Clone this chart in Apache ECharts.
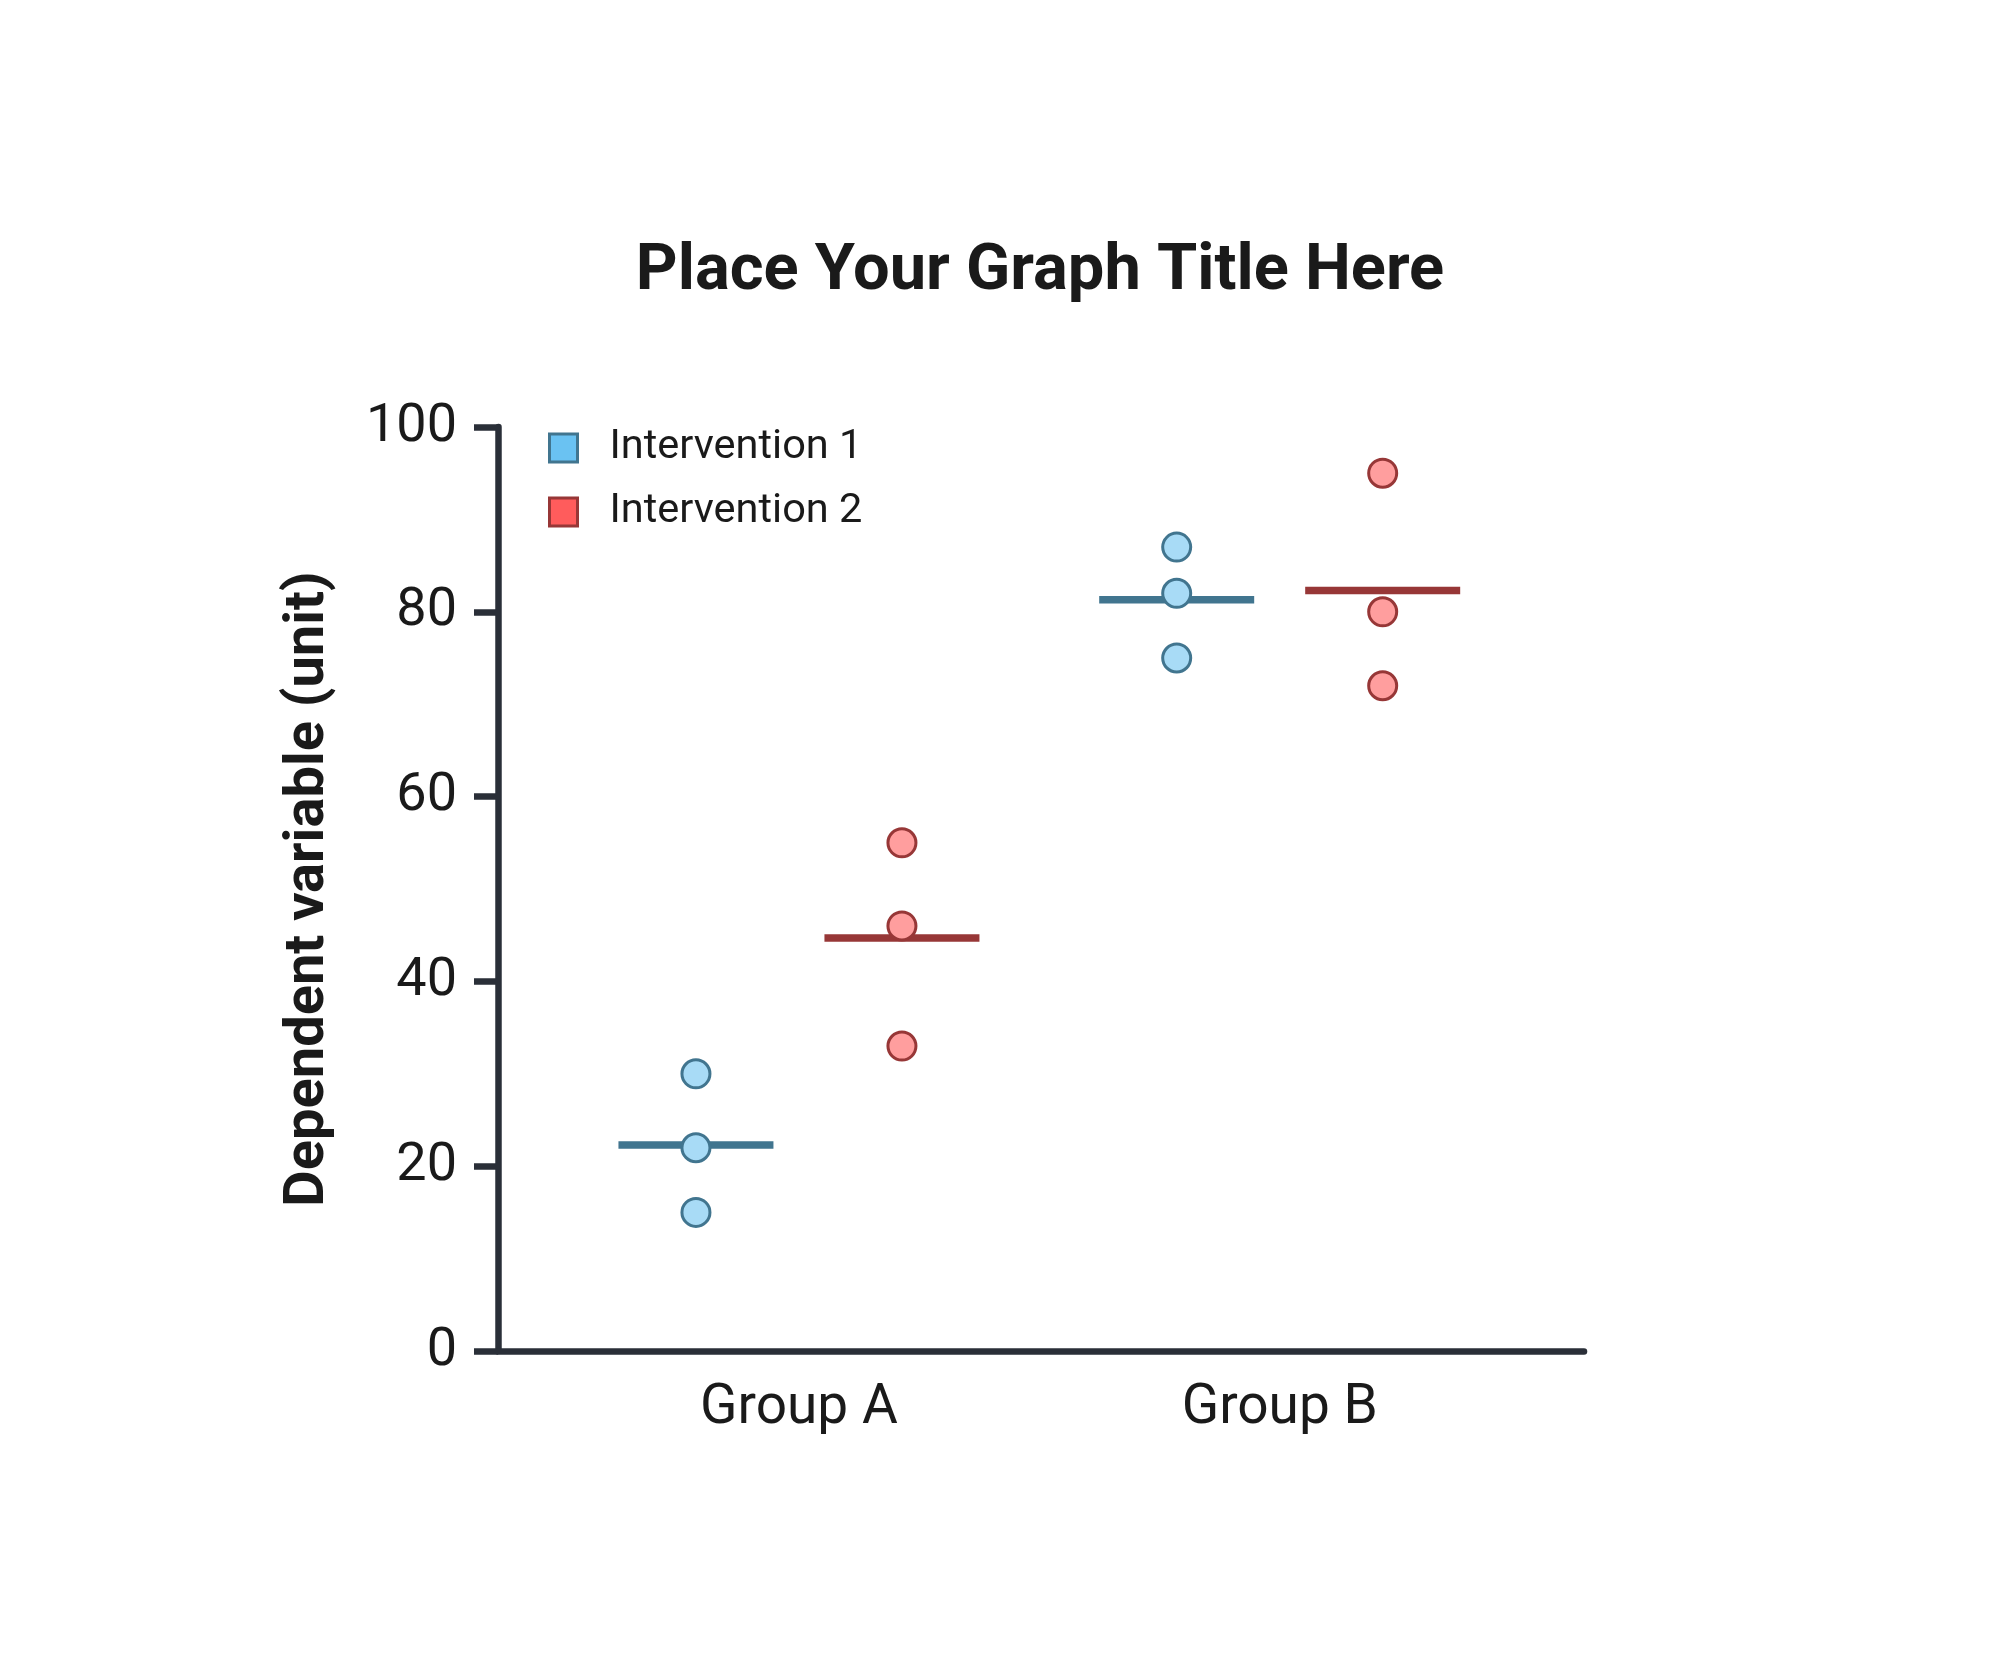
<!DOCTYPE html>
<html>
<head>
<meta charset="utf-8">
<title>Place Your Graph Title Here</title>
<script src="https://cdn.jsdelivr.net/npm/echarts@6/dist/echarts.min.js"></script>
<style>
  html, body { margin: 0; padding: 0; background: #fff; }
  #chart { width: 2000px; height: 1667px; }
</style>
</head>
<body>
<div id="chart"></div>
<script>
// values
const groups = ['Group A', 'Group B'];
const seriesNames = ['Intervention 1', 'Intervention 2'];
const intervention1 = [[30, 22, 15], [87, 82, 75]];
const intervention2 = [[55, 46, 33], [95, 80, 72]];
const means1 = [22.3, 81.3];
const means2 = [44.7, 82.3];
const yTicks = { min: 0, max: 100, step: 20 };

const BLUE = { fill: '#a8dbf6', line: '#41758f', legend: '#6ac2f2' };
const RED = { fill: '#ff9e9e', line: '#973737', legend: '#ff5c5c' };
const AXIS = '#2a2f38';
const TEXT = '#1a1a1a';
const DODGE = 103; // px, half distance between the two interventions in a group

function points(values) {
  const out = [];
  values.forEach((vals, g) => {
    vals.forEach((v) => out.push([g + 1, v]));
  });
  return out;
}

function meanPoints(means) {
  return means.map((m, g) => [g + 1, m]);
}

function dots(name, values, c, offset) {
  return {
    name: name,
    type: 'scatter',
    data: points(values),
    symbol: 'circle',
    symbolSize: 28,
    symbolOffset: [offset, 0],
    z: 3,
    itemStyle: { color: c.fill, borderColor: c.line, borderWidth: 3, opacity: 1 },
  };
}

function meanBar(name, means, c, offset) {
  return {
    name: name,
    type: 'scatter',
    data: meanPoints(means),
    symbol: 'rect',
    symbolSize: [155, 7.5],
    symbolOffset: [offset, 0],
    z: 2,
    silent: true,
    itemStyle: { color: c.line, opacity: 1 },
  };
}

const chart = echarts.init(document.getElementById('chart'));

const option = {
  backgroundColor: '#ffffff',
  animation: false,
  textStyle: { fontFamily: 'Roboto', color: TEXT },
  title: {
    text: 'Place Your Graph Title Here',
    left: 1035,
    textAlign: 'center',
    top: 235,
    textStyle: { fontFamily: 'Roboto', fontSize: 65, fontWeight: 'bold', color: TEXT },
  },
  legend: {
    orient: 'vertical',
    left: 543,
    top: 422,
    itemWidth: 28,
    itemHeight: 28,
    itemGap: 22,
    data: [
      {
        name: seriesNames[0],
        icon: 'rect',
        itemStyle: { color: BLUE.legend, borderColor: BLUE.line, borderWidth: 3 },
      },
      {
        name: seriesNames[1],
        icon: 'rect',
        itemStyle: { color: RED.legend, borderColor: RED.line, borderWidth: 3 },
      },
    ],
    textStyle: {
      fontFamily: 'Roboto',
      fontSize: 41.5,
      lineHeight: 40,
      color: TEXT,
      padding: [0, 0, 0, 27],
    },
  },
  grid: {
    left: 498,
    right: 416,
    top: 427,
    bottom: 316,
  },
  xAxis: {
    type: 'value',
    min: 0.374,
    max: 2.633,
    axisLine: { show: true, lineStyle: { color: AXIS, width: 6.5 } },
    axisTick: { show: false },
    splitLine: { show: false },
    axisLabel: {
      customValues: [1, 2],
      formatter: (v) => groups[Math.round(v) - 1] || '',
      fontFamily: 'Roboto',
      fontSize: 55,
      color: TEXT,
      margin: 31,
    },
  },
  yAxis: {
    type: 'value',
    min: yTicks.min,
    max: yTicks.max,
    interval: yTicks.step,
    name: 'Dependent variable (unit)',
    nameLocation: 'middle',
    nameGap: 161,
    nameTextStyle: { fontFamily: 'Roboto', fontSize: 56, fontWeight: 'bold', color: TEXT },
    axisLine: { show: true, lineStyle: { color: AXIS, width: 6.5 } },
    axisTick: { show: true, length: 24, lineStyle: { color: AXIS, width: 6.5 } },
    splitLine: { show: false },
    axisLabel: { fontFamily: 'Roboto', fontSize: 54, color: TEXT, margin: 41 },
  },
  series: [
    meanBar('mean1', means1, BLUE, -DODGE),
    meanBar('mean2', means2, RED, DODGE),
    dots(seriesNames[0], intervention1, BLUE, -DODGE),
    dots(seriesNames[1], intervention2, RED, DODGE),
  ],
};

chart.setOption(option);
</script>
</body>
</html>
